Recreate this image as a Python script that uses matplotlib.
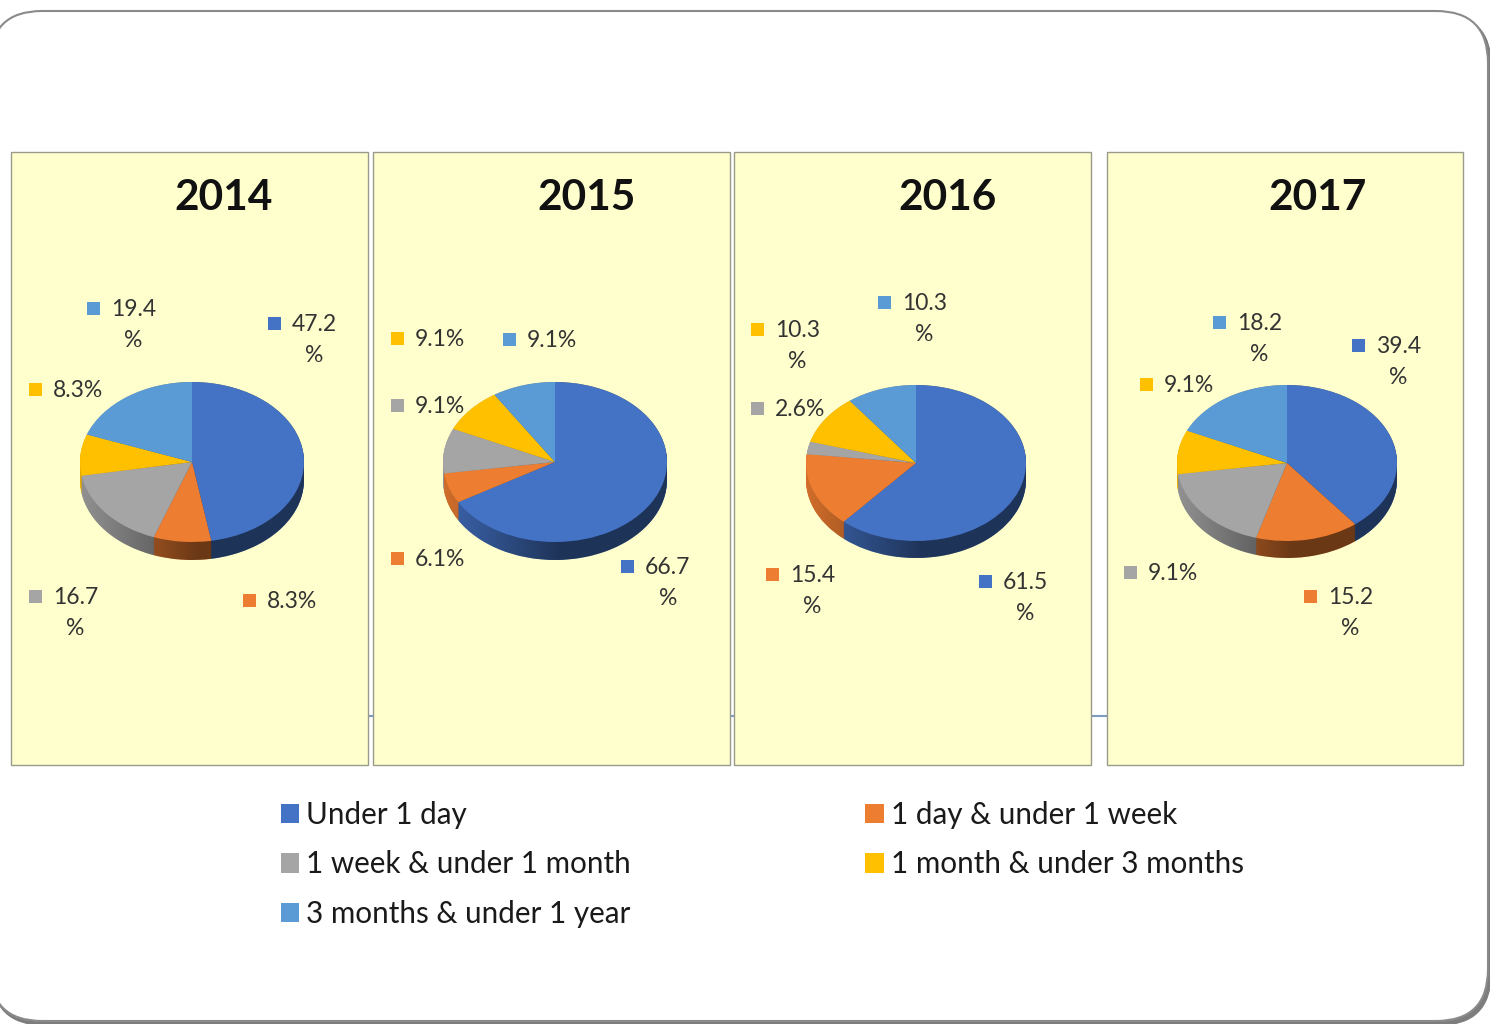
import numpy as np
import matplotlib.pyplot as plt
from matplotlib.patches import FancyBboxPatch, Patch, Polygon, Rectangle

plt.rcParams['font.family'] = ['Lato', 'DejaVu Sans']

W, H = 1490, 1024

years = ['2014', '2015', '2016', '2017']
categories = ['Under 1 day', '1 day & under 1 week', '1 week & under 1 month',
              '1 month & under 3 months', '3 months & under 1 year']
colors = ['#4472C4', '#ED7D31', '#A5A5A5', '#FFC000', '#5B9BD5']

values_2014 = [47.2, 8.3, 16.7, 8.3, 19.4]
values_2015 = [66.7, 6.1, 9.1, 9.1, 9.1]
values_2016 = [61.5, 15.4, 2.6, 10.3, 10.3]
values_2017 = [39.4, 15.2, 18.2, 9.1, 18.2]  # grey slice is drawn twice the size its label says
all_values = [values_2014, values_2015, values_2016, values_2017]

shown_2017 = [39.4, 15.2, 9.1, 9.1, 18.2]
all_shown = [values_2014, values_2015, values_2016, shown_2017]

# layout, in pixels of the reference
panels = [(11, 368), (373, 730), (734, 1091), (1107, 1463)]
title_x = [224, 587, 947, 1318]
pie_geom = [(192, 462, 112, 80, 18), (555, 462, 112, 80, 18),
            (916, 463, 110, 78, 17), (1287, 463, 110, 78, 17)]
label_pos = [
    [(274, 323), (249, 600), (35, 596), (35, 389), (93, 308)],
    [(627, 566), (397, 558), (397, 405), (397, 338), (509, 339)],
    [(985, 581), (772, 574), (757, 408), (757, 329), (884, 302)],
    [(1358, 345), (1310, 596), (1130, 572), (1146, 384), (1219, 322)],
]

fig = plt.figure(figsize=(W / 100, H / 100), dpi=100, facecolor='white')
bg = fig.add_axes([0, 0, 1, 1])
bg.set_xlim(0, W)
bg.set_ylim(H, 0)
bg.axis('off')

# slide frame with its shadow
bg.add_patch(FancyBboxPatch((-8 + 52, 14 + 52), 1499 - 104, 1011 - 104, boxstyle='round,pad=52',
                            fc='#7d7d7d', ec='#7d7d7d', lw=1, zorder=0))
bg.add_patch(FancyBboxPatch((-10 + 52, 11 + 52), 1498 - 104, 1010 - 104, boxstyle='round,pad=52',
                            fc='white', ec='#8a8a8a', lw=1.5, zorder=0.1))
bg.plot([368, 1107], [716, 716], color='#7f9cc0', lw=1.5, zorder=0.2)

for i, (x0, x1) in enumerate(panels):
    bg.add_patch(Rectangle((x0, 152), x1 - x0, 613, fc='#FFFFCD', ec='#9a9a8c', lw=1, zorder=1))
    bg.text(title_x[i], 198, years[i], fontsize=30.5, fontweight='bold', color='#111111',
            ha='center', va='center')


def side_alpha(x):
    # darkening of the pie wall, lighter towards the left
    return np.interp(x, [-1, -0.25, 0.05, 1], [0.12, 0.42, 0.55, 0.55])


for i, vals in enumerate(all_values):
    cx, cy, rx, ry, depth = pie_geom[i]
    d = depth / ry
    m = 0.02
    ax = fig.add_axes([(cx - rx * (1 + m)) / W, 1 - (cy + ry * (1 + m) + depth) / H,
                       2 * rx * (1 + m) / W, (2 * ry * (1 + m) + depth) / H])
    for off in np.linspace(d, 0.01, 24):
        ax.pie(vals, colors=colors, startangle=90, counterclock=False, radius=1,
               center=(0, -off), normalize=True)
    # shade of the wall
    t = np.linspace(0, np.pi, 100)
    wall = np.r_[np.c_[np.cos(t), np.sin(t)], np.c_[-np.cos(t), -np.sin(t) - d]]
    clip = Polygon(wall, closed=True, transform=ax.transData, fc='none', ec='none')
    ax.add_patch(clip)
    grad = np.zeros((2, 300, 4))
    grad[:, :, 3] = side_alpha(np.linspace(-1, 1, 300))
    im = ax.imshow(grad, extent=(-1, 1, -1 - d, 1), aspect='auto', zorder=5, interpolation='bilinear')
    im.set_clip_path(clip)
    wedges, _ = ax.pie(vals, colors=colors, startangle=90, counterclock=False, radius=1,
                       center=(0, 0), normalize=True)
    for w in wedges:
        w.set_zorder(6)
    ax.set_aspect('auto')
    ax.set_xlim(-1 - m, 1 + m)
    ax.set_ylim(-1 - d - m, 1 + m)

    # data labels, the long ones wrap the way the chart boxes did
    for v, c, (sx, sy) in zip(all_shown[i], colors, label_pos[i]):
        bg.add_patch(Rectangle((sx - 6.5, sy - 6.5), 13, 13, fc=c, ec='none', zorder=2))
        txt = f'{v}\n%' if v >= 10 else f'{v}%'
        bg.text(sx + 18, sy - 9, txt, fontsize=16.5, color='#333333', ha='left', va='top',
                multialignment='center', linespacing=1.58)

order = [0, 2, 4, 1, 3]
handles = [Patch(fc=colors[k], ec='none', label=categories[k]) for k in order]
fig.legend(handles=handles, ncols=2, frameon=False, fontsize=21.3,
           loc='upper left', bbox_to_anchor=(269 / W, 1 - 789 / H), borderaxespad=0,
           handlelength=0.62, handleheight=0.62, handletextpad=0.24,
           columnspacing=7.92, labelspacing=0.73, labelcolor='#1a1a1a')

fig.savefig('out.png', dpi=100)
